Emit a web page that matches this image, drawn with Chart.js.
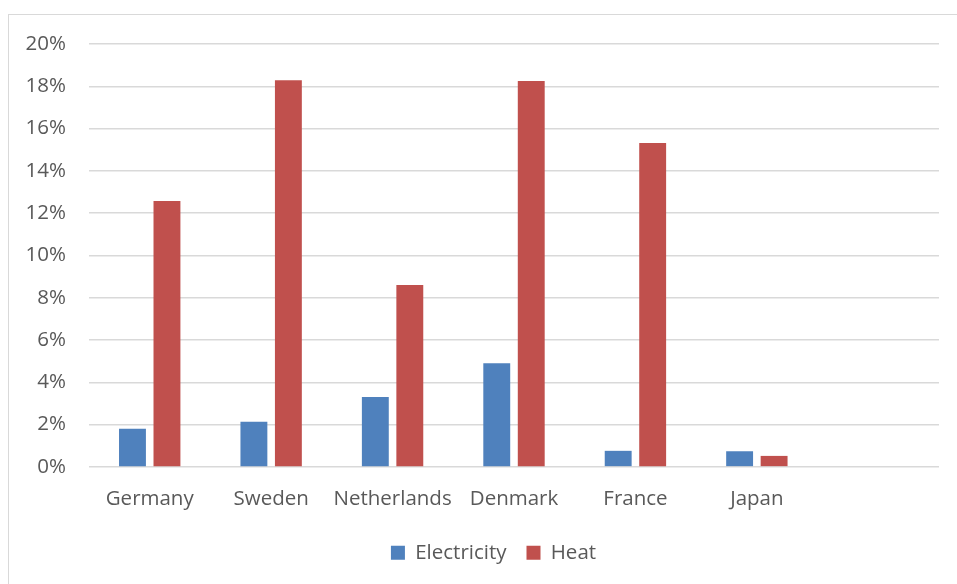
<!DOCTYPE html>
<html>
<head>
<meta charset="utf-8">
<script src="https://cdn.jsdelivr.net/npm/chart.js@4/dist/chart.umd.min.js"></script>
<style>
  html, body { margin: 0; padding: 0; background: #ffffff; }
  #wrap { position: relative; width: 957px; height: 584px; }
</style>
</head>
<body>
<div id="wrap"><canvas id="chart" width="957" height="584"></canvas></div>
<script>
// Share of renewable sources, by country
const countries = ['Germany', 'Sweden', 'Netherlands', 'Denmark', 'France', 'Japan', ''];
const electricity = [1.8, 2.13, 3.31, 4.9, 0.76, 0.74, null];
const heat = [12.58, 18.28, 8.6, 18.25, 15.32, 0.52, null];
const yTicks = { min: 0, max: 20, step: 2 };

const textColor = '#595959';
const fontFamily = '"Open Sans", Lato, sans-serif';
const fontSize = 20.5;

// Thin frame around the chart object
const framePlugin = {
  id: 'frame',
  beforeDraw(chart) {
    const ctx = chart.ctx;
    ctx.save();
    ctx.strokeStyle = '#d9d9d9';
    ctx.lineWidth = 1;
    ctx.strokeRect(8.5, 14.5, 960, 600);
    ctx.restore();
  }
};

// Center the legend under the whole frame and pull it a little closer to the axis
const legendShift = {
  id: 'legendShift',
  afterLayout(chart) {
    const lg = chart.legend;
    if (lg) {
      lg.left += 24;
      lg.right += 24;
      lg.top -= 9;
      lg.bottom -= 9;
    }
  }
};

new Chart(document.getElementById('chart'), {
  type: 'bar',
  data: {
    labels: countries,
    datasets: [
      { label: 'Electricity', data: electricity, backgroundColor: '#4F81BD' },
      { label: 'Heat', data: heat, backgroundColor: '#C0504D' }
    ]
  },
  options: {
    responsive: false,
    animation: false,
    devicePixelRatio: 1,
    categoryPercentage: 0.568,
    barPercentage: 0.78,
    layout: { padding: { top: 44, right: 18, bottom: 2, left: 0 } },
    plugins: {
      legend: {
        position: 'bottom',
        labels: {
          color: textColor,
          font: { family: fontFamily, size: fontSize },
          boxWidth: 14,
          boxHeight: 14,
          padding: 20
        }
      },
      tooltip: { enabled: false }
    },
    scales: {
      x: {
        grid: { display: false, drawTicks: false },
        border: { display: false },
        ticks: {
          color: textColor,
          font: { family: fontFamily, size: fontSize },
          padding: 20,
          maxRotation: 0
        }
      },
      y: {
        min: yTicks.min,
        max: yTicks.max,
        afterFit(scale) { scale.width = 89; },
        grid: { color: '#d9d9d9', lineWidth: 1.5, drawTicks: false },
        border: { display: false },
        ticks: {
          stepSize: yTicks.step,
          color: textColor,
          font: { family: fontFamily, size: fontSize },
          padding: 23,
          callback: v => v + '%'
        }
      }
    }
  },
  plugins: [framePlugin, legendShift]
});
</script>
</body>
</html>
